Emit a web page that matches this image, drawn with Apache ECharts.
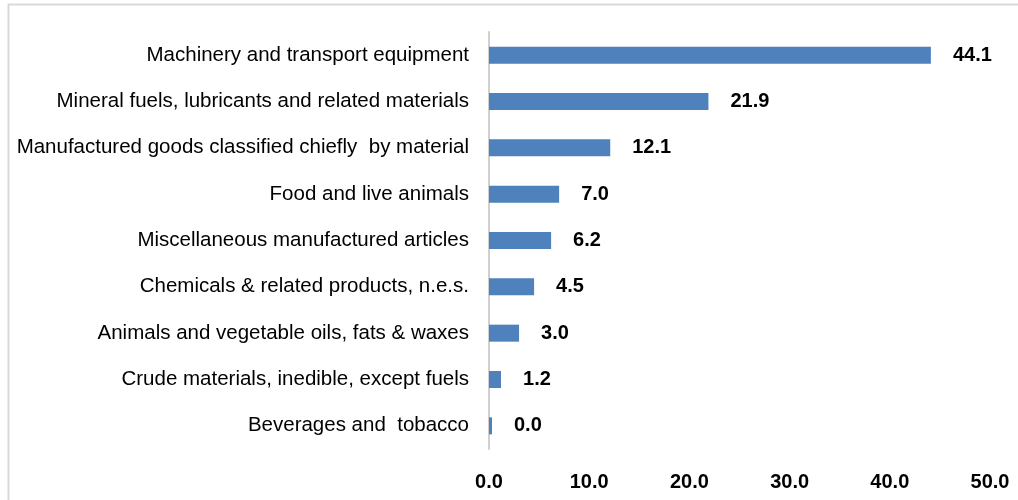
<!DOCTYPE html>
<html>
<head>
<meta charset="utf-8">
<script src="https://cdn.jsdelivr.net/npm/echarts@6/dist/echarts.min.js"></script>
<style>
  html, body { margin: 0; padding: 0; background: #fff; }
  #chart { width: 1018px; height: 500px; }
</style>
</head>
<body>
<div id="chart"></div>
<script>
// categories listed bottom to top (ECharts category axis starts at the bottom)
var categories = [
  'Beverages and  tobacco',
  'Crude materials, inedible, except fuels',
  'Animals and vegetable oils, fats & waxes',
  'Chemicals & related products, n.e.s.',
  'Miscellaneous manufactured articles',
  'Food and live animals',
  'Manufactured goods classified chiefly  by material',
  'Mineral fuels, lubricants and related materials',
  'Machinery and transport equipment'
];
var shares = [0.0, 1.2, 3.0, 4.5, 6.2, 7.0, 12.1, 21.9, 44.1];
var axisTicks = [0, 10, 20, 30, 40, 50];

var font = '"Liberation Sans", Arial, sans-serif';

var myChart = echarts.init(document.getElementById('chart'));
var option = {
  animation: false,
  grid: { left: 489, right: 28, top: 32, bottom: 51, containLabel: false, outerBoundsMode: 'none' },
  // light frame around the chart area
  graphic: [{
    type: 'rect',
    shape: { x: 8.5, y: 4.5, width: 1100, height: 600 },
    style: { fill: 'none', stroke: '#d9d9d9', lineWidth: 2 },
    silent: true
  }],
  xAxis: {
    type: 'value',
    min: axisTicks[0],
    max: axisTicks[axisTicks.length - 1],
    interval: 10,
    splitLine: { show: false },
    axisLine: { show: false },
    axisTick: { show: false },
    axisLabel: {
      margin: 23,
      fontFamily: font,
      fontSize: 20,
      fontWeight: 'bold',
      color: '#000',
      formatter: function (v) { return v.toFixed(1); }
    }
  },
  yAxis: {
    type: 'category',
    data: categories,
    axisLine: { show: true, lineStyle: { color: '#d0d0d0', width: 2 } },
    axisTick: { show: false },
    axisLabel: {
      margin: 20,
      fontFamily: font,
      fontSize: 20.5,
      color: '#000'
    }
  },
  series: [{
    type: 'bar',
    data: shares,
    barWidth: 17,
    barMinHeight: 3,
    itemStyle: { color: '#4f81bd' },
    label: {
      show: true,
      position: 'right',
      distance: 22,
      fontFamily: font,
      fontSize: 20,
      fontWeight: 'bold',
      color: '#000',
      formatter: function (p) { return p.value.toFixed(1); }
    }
  }]
};
myChart.setOption(option);
</script>
</body>
</html>
